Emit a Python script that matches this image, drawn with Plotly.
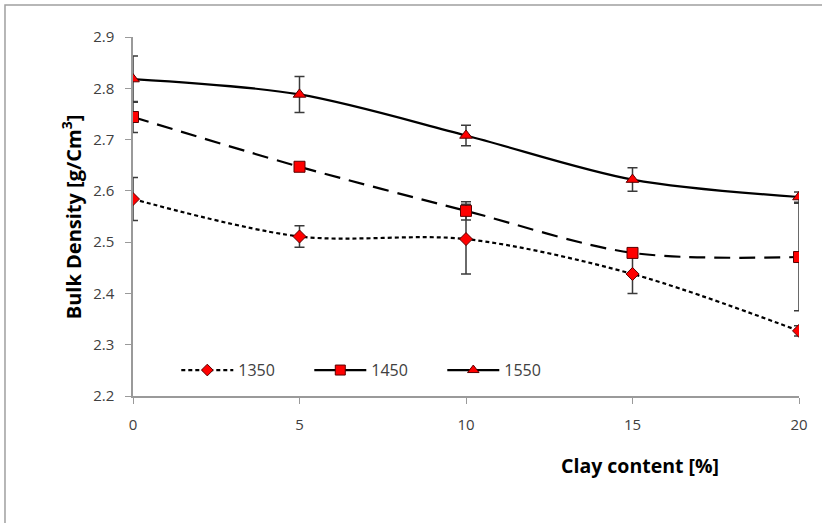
import plotly.graph_objects as go

# Clay content (%) on the x axis
clay = [0, 5, 10, 15, 20]

# Bulk density (g/cm3) per firing temperature, with standard deviations
bd_1350 = [2.584, 2.511, 2.506, 2.438, 2.327]
err_1350 = [0.042, 0.021, 0.068, 0.038, 0.010]

bd_1450 = [2.744, 2.647, 2.561, 2.479, 2.471]
err_1450 = [0.030, 0.006, 0.018, 0.008, 0.105]

bd_1550 = [2.818, 2.788, 2.708, 2.622, 2.588]
err_1550 = [0.045, 0.035, 0.020, 0.023, 0.010]

labels = ["1350", "1450", "1550"]

RED = "#ff0000"
EDGE = "#5a0000"
ERR = "#3a3a3a"
FONT = "Open Sans, Noto Sans, sans-serif"

fig = go.Figure()

series = [
    (bd_1350, err_1350, "4px,3px", "diamond", 10),
    (bd_1450, err_1450, "16px,9px", "square", 11),
    (bd_1550, err_1550, "solid", "triangle-up", 11),
]

for (vals, errs, dash, sym, size), name in zip(series, labels):
    fig.add_trace(go.Scatter(
        x=clay, y=vals, mode="lines+markers", name=name, showlegend=False,
        line=dict(color="black", width=2.2, dash=dash, shape="spline", smoothing=0.9),
        marker=dict(symbol=sym, size=size, color=RED, line=dict(color=EDGE, width=1)),
        error_y=dict(type="data", array=errs, visible=True, color=ERR,
                     thickness=1.5, width=5),
    ))

# Legend entries
legend_styles = [("4px,3px", "diamond", 9), ("solid", "square", 10), ("solid", "triangle-up", 10)]
for (dash, sym, size), name in zip(legend_styles, labels):
    fig.add_trace(go.Scatter(
        x=[None], y=[None], mode="lines+markers", name=name,
        line=dict(color="black", width=2.2, dash=dash),
        marker=dict(symbol=sym, size=size, color=RED, line=dict(color=EDGE, width=1)),
    ))

tick_font = dict(family=FONT, size=15, color="#404040")

fig.update_layout(
    width=822, height=523,
    margin=dict(l=133, r=23, t=37, b=127),
    paper_bgcolor="white", plot_bgcolor="white",
    showlegend=True,
    legend=dict(orientation="h", x=0.065, y=0.072, xanchor="left", yanchor="middle",
                font=dict(family=FONT, size=16, color="#404040"),
                bgcolor="rgba(0,0,0,0)", itemwidth=52, entrywidth=66,
                entrywidthmode="pixels", tracegroupgap=0),
    xaxis=dict(range=[0, 20], tickvals=clay, showgrid=False, zeroline=False,
               showline=True, linecolor="#9a9a9a", linewidth=1.5,
               ticks="outside", ticklen=6, tickcolor="#9a9a9a", tickfont=tick_font,
               ticklabelstandoff=8),
    yaxis=dict(range=[2.2, 2.9], dtick=0.1, tickformat=".1f", showgrid=False, zeroline=False,
               showline=True, linecolor="#9a9a9a", linewidth=1.5,
               ticks="outside", ticklen=6, tickcolor="#9a9a9a", tickfont=tick_font,
               ticklabelstandoff=8),
    annotations=[
        dict(text="<b>Bulk Density [g/Cm<sup>3</sup>]</b>", xref="paper", yref="paper",
             x=-0.092, y=0.50, xanchor="center", yanchor="middle", textangle=-90,
             showarrow=False, font=dict(family=FONT, size=20, color="black")),
        dict(text="<b>Clay content [%]</b>", xref="paper", yref="paper",
             x=0.762, y=-0.193, xanchor="center", yanchor="middle", showarrow=False,
             font=dict(family=FONT, size=19.5, color="black")),
    ],
    shapes=[
        dict(type="rect", xref="paper", yref="paper",
             x0=-0.1922, y0=-0.40, x1=1.10, y1=1.089,
             line=dict(color="#a0a0a0", width=1.5), fillcolor="rgba(0,0,0,0)", layer="below"),
    ],
)

fig.write_html("out.html")
